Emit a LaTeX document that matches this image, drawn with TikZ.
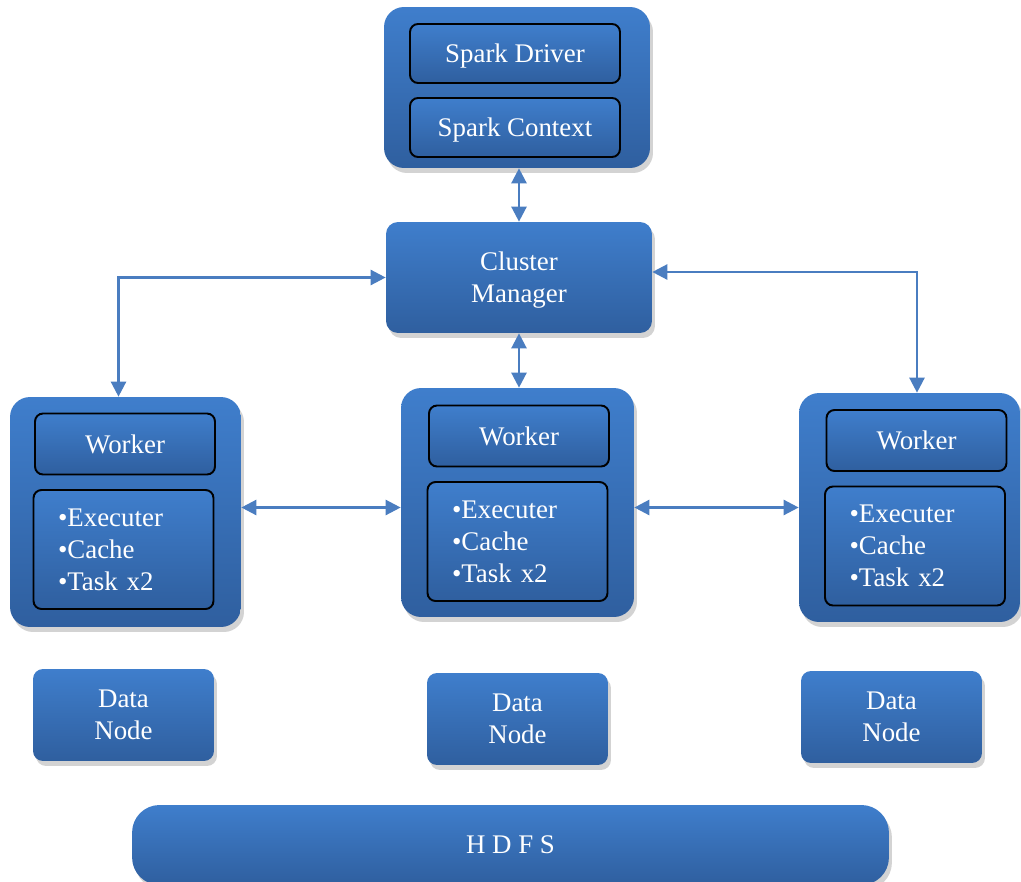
\documentclass[tikz,border=0pt]{standalone}
\usepackage{fontspec}
\setmainfont{Liberation Serif}
\usetikzlibrary{arrows.meta,shadows}

\definecolor{boxtop}{HTML}{3F7ECC}
\definecolor{boxbot}{HTML}{2F5F9F}
\definecolor{linkblue}{HTML}{4A7DC0}

\begin{document}
\begin{tikzpicture}[x=0.02cm,y=-0.02cm,
  every node/.style={font=\fontsize{15.3}{18.2}\selectfont,text=white,align=center,text depth=0pt},
  panel/.style={rounded corners=0.4cm,top color=boxtop,bottom color=boxbot,
    drop shadow={shadow xshift=0.6mm,shadow yshift=-1mm,opacity=0.35}},
  inbox/.style={draw=black,line width=1.1pt,rounded corners=0.16cm,top color=boxtop,bottom color=boxbot,
    minimum width=3.6cm,minimum height=1.22cm},
  listbox/.style={inbox,minimum height=2.38cm,text width=2.62cm,align=left,text depth={}},
  datanode/.style={panel,rounded corners=0.2cm,minimum width=3.62cm,minimum height=1.84cm},
  link/.style={draw=linkblue,line width=1.4pt,{Triangle[length=3mm,width=3mm]}-{Triangle[length=3mm,width=3mm]}}]
  \useasboundingbox (0,0) rectangle (1021,882);

  % driver
  \node[panel,minimum width=5.32cm,minimum height=3.22cm] (drv) at (517,87.5) {};
  \node[inbox,minimum width=4.2cm,minimum height=1.18cm] (sd) at (515,53.5) {Spark Driver};
  \node[inbox,minimum width=4.2cm,minimum height=1.18cm] (sc) at (515,127.5) {Spark Context};

  % cluster manager
  \node[panel,rounded corners=0.24cm,minimum width=5.32cm,minimum height=2.22cm] (cm) at (519,277.5) {Cluster\\Manager};

  % workers
  \node[panel,minimum width=4.62cm,minimum height=4.6cm] (wl) at (125.5,512) {};
  \node[inbox] (wlw) at (125,444) {Worker};
  \node[listbox] (wll) at (123.5,549.5) {•Executer\\•Cache\\•Task x2};

  \node[panel,minimum width=4.66cm,minimum height=4.58cm] (wm) at (517.5,502.5) {};
  \node[inbox] (wmw) at (519,436) {Worker};
  \node[listbox] (wml) at (517.5,541.5) {•Executer\\•Cache\\•Task x2};

  \node[panel,minimum width=4.42cm,minimum height=4.58cm] (wr) at (909.5,507.5) {};
  \node[inbox] (wrw) at (916.5,440.5) {Worker};
  \node[listbox] (wrl) at (915,546) {•Executer\\•Cache\\•Task x2};

  % data nodes and hdfs
  \node[datanode] (dl) at (123.5,715) {Data\\Node};
  \node[datanode] (dm) at (517.5,719) {Data\\Node};
  \node[datanode] (dr) at (891.5,717) {Data\\Node};
  \node[panel,rounded corners=0.55cm,minimum width=15.14cm,minimum height=1.6cm] (hdfs) at (510.5,845) {H D F S};

  \draw[link] (cm.north) -- (cm.north |- drv.south);
  \draw[link] (cm.south) -- (cm.south |- wm.north);
  \draw[link] (cm.west) -| ([xshift=-0.14cm]wl.north);
  \draw[link] ([yshift=0.11cm]cm.east) -| ([xshift=0.15cm]wr.north);
  \draw[link] (wl.east |- wr.west) -- (wm.west |- wr.west);
  \draw[link] (wm.east |- wr.west) -- (wr.west);
\end{tikzpicture}
\end{document}
